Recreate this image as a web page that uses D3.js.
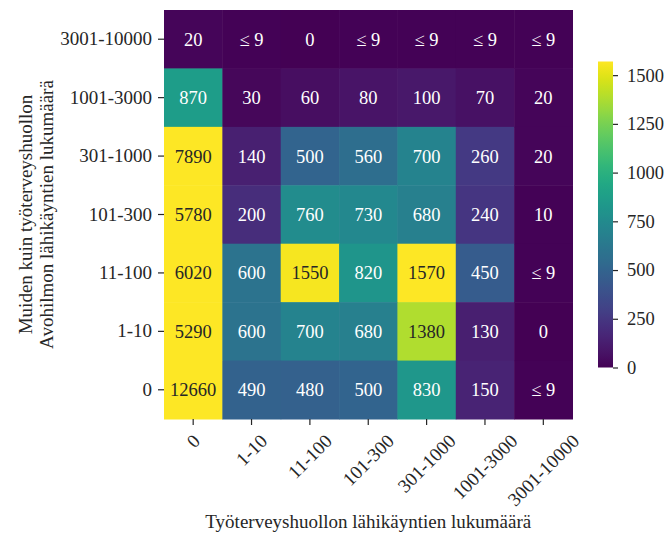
<!DOCTYPE html>
<html>
<head>
<meta charset="utf-8">
<script src="https://cdn.jsdelivr.net/npm/d3@7/dist/d3.min.js"></script>
<style>
  html, body { margin: 0; padding: 0; background: #fff; }
  svg { display: block; }
  svg text { font-family: "Liberation Serif", "Times New Roman", "DejaVu Serif", serif; }
</style>
</head>
<body>
<svg id="chart" width="666" height="534"></svg>
<script>
// Visit-count bands (Työterveyshuolto along x, other Avohilmo visits along y)
const xCategories = ["0", "1-10", "11-100", "101-300", "301-1000", "1001-3000", "3001-10000"];
const yCategories = ["3001-10000", "1001-3000", "301-1000", "101-300", "11-100", "1-10", "0"];

// Person counts per cell, rows listed top to bottom; null = small count suppressed (≤ 9)
const row3001to10000 = [20, null, 0, null, null, null, null];
const row1001to3000  = [870, 30, 60, 80, 100, 70, 20];
const row301to1000   = [7890, 140, 500, 560, 700, 260, 20];
const row101to300    = [5780, 200, 760, 730, 680, 240, 10];
const row11to100     = [6020, 600, 1550, 820, 1570, 450, null];
const row1to10       = [5290, 600, 700, 680, 1380, 130, 0];
const row0           = [12660, 490, 480, 500, 830, 150, null];
const counts = [row3001to10000, row1001to3000, row301to1000, row101to300, row11to100, row1to10, row0];

const SUPPRESSION_LIMIT = 9;
const colorMax = 1570;
const colorbarTicks = [0, 250, 500, 750, 1000, 1250, 1500];

const xTitle = "Työterveyshuollon lähikäyntien lukumäärä";
const yTitleLines = ["Muiden kuin työterveyshuollon", "Avohilmon lähikäyntien lukumäärä"];

// ---- layout ----
const svg = d3.select("#chart");
const plot = { left: 164, top: 10, right: 572.5, bottom: 419 };
const LABEL_FONT = 19;
const CELL_FONT = 18.5;
const SERIF = "'Liberation Serif', 'Times New Roman', serif";
const INK = "rgb(38,38,38)";

const x = d3.scaleBand().domain(xCategories).range([plot.left, plot.right]).padding(0);
const y = d3.scaleBand().domain(yCategories).range([plot.top, plot.bottom]).padding(0);
const color = d3.scaleSequential(d3.interpolateViridis).domain([0, colorMax]).clamp(true);

// Relative luminance, used to pick dark or white annotation text
function luminance(c) {
  const rgb = d3.rgb(c);
  const lin = [rgb.r, rgb.g, rgb.b].map(v => {
    v /= 255;
    return v <= 0.03928 ? v / 12.92 : Math.pow((v + 0.055) / 1.055, 2.4);
  });
  return 0.2126 * lin[0] + 0.7152 * lin[1] + 0.0722 * lin[2];
}

const cells = [];
counts.forEach((row, ri) => {
  row.forEach((v, ci) => {
    cells.push({
      row: yCategories[ri],
      col: xCategories[ci],
      value: v === null ? SUPPRESSION_LIMIT : v,
      label: v === null ? "\u2264 " + SUPPRESSION_LIMIT : String(v)
    });
  });
});

const cellG = svg.append("g");
cellG.selectAll("rect")
  .data(cells)
  .join("rect")
  .attr("x", d => x(d.col))
  .attr("y", d => y(d.row))
  .attr("width", x.bandwidth() + 0.5)
  .attr("height", y.bandwidth() + 0.5)
  .attr("fill", d => color(d.value));

cellG.selectAll("text")
  .data(cells)
  .join("text")
  .attr("x", d => x(d.col) + x.bandwidth() / 2)
  .attr("y", d => y(d.row) + y.bandwidth() / 2)
  .attr("text-anchor", "middle")
  .attr("dy", "0.35em")
  .style("font-family", SERIF)
  .style("font-size", CELL_FONT + "px")
  .attr("fill", d => luminance(color(d.value)) > 0.408 ? INK : "#fff")
  .text(d => d.label);

// ---- y axis ----
const yAxis = svg.append("g")
  .attr("transform", `translate(${plot.left},0)`)
  .call(d3.axisLeft(y).tickSize(6).tickPadding(6));
yAxis.select(".domain").remove();
yAxis.selectAll(".tick line").attr("stroke", INK).attr("stroke-width", 1.2);
yAxis.selectAll(".tick text")
  .style("font-family", SERIF)
  .style("font-size", LABEL_FONT + "px")
  .attr("fill", INK);

// ---- x axis ----
const xAxis = svg.append("g")
  .attr("transform", `translate(0,${plot.bottom})`)
  .call(d3.axisBottom(x).tickSize(6));
xAxis.select(".domain").remove();
xAxis.selectAll(".tick line").attr("stroke", INK).attr("stroke-width", 1.2);
// Rotated labels: bounding box centred under each tick, top just below the tick mark
xAxis.selectAll(".tick text")
  .style("font-family", SERIF)
  .style("font-size", LABEL_FONT + "px")
  .attr("fill", INK)
  .attr("text-anchor", "middle")
  .attr("dy", null)
  .attr("y", null)
  .attr("dominant-baseline", "central")
  .each(function () {
    const w = this.getComputedTextLength();
    const h = LABEL_FONT * 0.85;
    const H = (w + h) / Math.SQRT2;
    d3.select(this).attr("transform", `translate(0,${13 + H / 2}) rotate(-45)`);
  });

// ---- axis titles ----
svg.append("text")
  .attr("x", (plot.left + plot.right) / 2)
  .attr("y", 528)
  .attr("text-anchor", "middle")
  .style("font-family", SERIF)
  .style("font-size", LABEL_FONT + "px")
  .attr("fill", INK)
  .text(xTitle);

const yTitle = svg.append("text")
  .attr("transform", `translate(0,${(plot.top + plot.bottom) / 2}) rotate(-90)`)
  .attr("text-anchor", "middle")
  .style("font-family", SERIF)
  .style("font-size", LABEL_FONT + "px")
  .attr("fill", INK);
yTitle.selectAll("tspan")
  .data(yTitleLines)
  .join("tspan")
  .attr("x", 0)
  .attr("y", (d, i) => 31.5 + i * 21)
  .text(d => d);

// ---- colour bar ----
const cb = { x: 598, width: 15, top: 61.5, bottom: 367.5 };
const cbScale = d3.scaleLinear().domain([0, colorMax]).range([cb.bottom, cb.top]);

const defs = svg.append("defs");
const grad = defs.append("linearGradient")
  .attr("id", "cbgrad")
  .attr("x1", 0).attr("y1", 1).attr("x2", 0).attr("y2", 0);
grad.selectAll("stop")
  .data(d3.range(0, 1.0001, 0.02))
  .join("stop")
  .attr("offset", d => d)
  .attr("stop-color", d => color(d * colorMax));

svg.append("rect")
  .attr("x", cb.x)
  .attr("y", cb.top)
  .attr("width", cb.width)
  .attr("height", cb.bottom - cb.top)
  .attr("fill", "url(#cbgrad)");

const cbAxis = svg.append("g")
  .attr("transform", `translate(${cb.x + cb.width},0)`)
  .call(d3.axisRight(cbScale).tickValues(colorbarTicks).tickFormat(d3.format("d")).tickSize(5).tickPadding(9));
cbAxis.select(".domain").remove();
cbAxis.selectAll(".tick line").attr("stroke", INK).attr("stroke-width", 1.2);
cbAxis.selectAll(".tick text")
  .style("font-family", SERIF)
  .style("font-size", CELL_FONT + "px")
  .attr("fill", INK);
</script>
</body>
</html>
